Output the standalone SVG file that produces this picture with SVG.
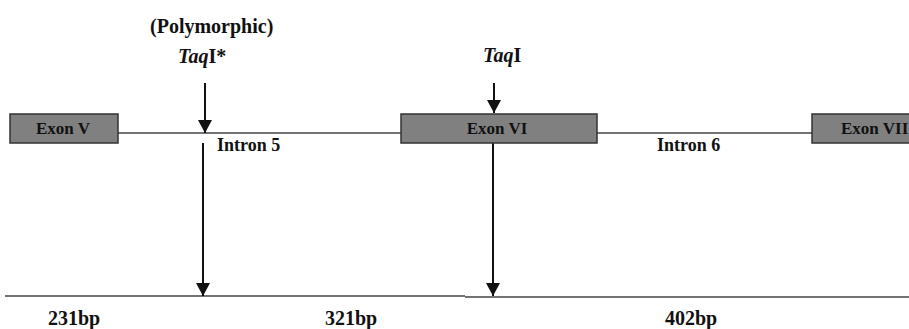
<svg xmlns="http://www.w3.org/2000/svg" width="909" height="329" viewBox="0 0 909 329">
<style>
.exon{fill:#808080;stroke:#333;stroke-width:1.5}
.lbl{font-family:'Liberation Serif',Tinos,'Times New Roman','DejaVu Serif',serif;font-weight:700;fill:#111}
.ex{font-size:17px}
.big{font-size:20px}
.intr{font-size:18px}
.line{stroke:#444;stroke-width:1.6;fill:none}
.arr{stroke:#111;stroke-width:2;fill:none}
</style>
<defs>
<marker id="ah" markerUnits="userSpaceOnUse" markerWidth="14" markerHeight="14" viewBox="0 0 14 14" refX="13" refY="7" orient="auto">
<path d="M0,0 L13,7 L0,14 Z" fill="#111"/>
</marker>
</defs>
<g id="connectors">
<line class="line" x1="118" y1="133" x2="401" y2="133"/>
<line class="line" x1="597" y1="133" x2="812" y2="133"/>
<line class="line" x1="5" y1="296" x2="465" y2="296"/>
<line class="line" x1="465" y1="297" x2="909" y2="297"/>
<line class="arr" x1="205" y1="83" x2="205" y2="133" marker-end="url(#ah)"/>
<line class="arr" x1="203" y1="143" x2="203" y2="296" marker-end="url(#ah)"/>
<line class="arr" x1="494" y1="83" x2="494" y2="113" marker-end="url(#ah)"/>
<line class="arr" x1="493" y1="143" x2="493" y2="296" marker-end="url(#ah)"/>
</g>
<g id="exon5">
<rect class="exon" x="10" y="114" width="108" height="29"/>
<text class="lbl ex" x="63" y="134" text-anchor="middle" font-family="Liberation Serif, serif">Exon V</text>
</g>
<g id="exon6">
<rect class="exon" x="401" y="114" width="196" height="29"/>
<text class="lbl ex" x="497" y="134" text-anchor="middle">Exon VI</text>
</g>
<g id="exon7">
<rect class="exon" x="812" y="114" width="110" height="29"/>
<text class="lbl ex" x="841" y="134">Exon VII</text>
</g>
<g id="intron5">
<text class="lbl intr" x="217" y="151">Intron 5</text>
</g>
<g id="intron6">
<text class="lbl intr" x="657" y="151">Intron 6</text>
</g>
<g id="taq1">
<text class="lbl big" x="150" y="33">(Polymorphic)</text>
<text class="lbl big" x="178" y="63"><tspan font-style="italic">Taq</tspan>I*</text>
</g>
<g id="taq2">
<text class="lbl big" x="483" y="62"><tspan font-style="italic">Taq</tspan>I</text>
</g>
<g id="sizes">
<text class="lbl big" x="48" y="325">231bp</text>
<text class="lbl big" x="325" y="325">321bp</text>
<text class="lbl big" x="665" y="325">402bp</text>
</g>
</svg>
